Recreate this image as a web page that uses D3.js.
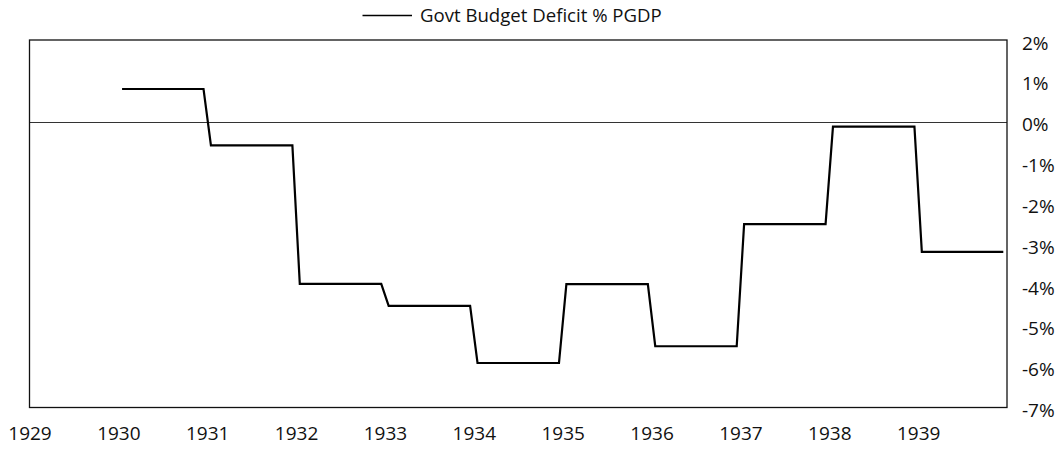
<!DOCTYPE html>
<html>
<head>
<meta charset="utf-8">
<script src="https://cdn.jsdelivr.net/npm/d3@7"></script>
<style>
  html, body { margin: 0; padding: 0; background: #fff; }
  svg { display: block; }
  text { font-family: "Open Sans", "Noto Sans", sans-serif; fill: #111; }
</style>
</head>
<body>
<svg id="chart" width="1064" height="453"></svg>
<script>
// Data: annual government budget deficit as % of GDP
const years = [1930, 1931, 1932, 1933, 1934, 1935, 1936, 1937, 1938, 1939];
const deficit = [0.80, -0.58, -3.97, -4.51, -5.91, -3.98, -5.50, -2.51, -0.12, -3.19];
const xTickYears = [1929, 1930, 1931, 1932, 1933, 1934, 1935, 1936, 1937, 1938, 1939];
const yTicks = [2, 1, 0, -1, -2, -3, -4, -5, -6, -7];
const seriesName = "Govt Budget Deficit % PGDP";

const svg = d3.select("#chart");
const plotL = 29.5, plotR = 1007, plotT = 40, plotB = 407.5;

const x = d3.scaleLinear().domain([1929, 1940]).range([plotL, plotR]);
const y = d3.scaleLinear().domain([-7, 2]).range([plotB, plotT]);

// Zero line
svg.append("line")
  .attr("x1", plotL).attr("x2", plotR)
  .attr("y1", Math.round(y(0)) + 0.5).attr("y2", Math.round(y(0)) + 0.5)
  .attr("stroke", "#333").attr("stroke-width", 1);

// Step line: monthly categories, each year's value held from Jan to Dec
const pts = [];
years.forEach((yr, i) => {
  pts.push([x(yr + 0.5 / 12), y(deficit[i])]);
  pts.push([x(yr + 11.5 / 12), y(deficit[i])]);
});
svg.append("path")
  .attr("d", d3.line()(pts))
  .attr("fill", "none")
  .attr("stroke", "#000")
  .attr("stroke-width", 2.2)
  .attr("stroke-linejoin", "miter");

// Frame
svg.append("rect")
  .attr("x", plotL).attr("y", plotT)
  .attr("width", plotR - plotL).attr("height", plotB - plotT)
  .attr("fill", "none").attr("stroke", "#111").attr("stroke-width", 1.3);

// Right axis labels
const yAxis = d3.axisRight(y).tickValues(yTicks).tickSize(0).tickPadding(0)
  .tickFormat(d => d + "%");
const gy = svg.append("g").attr("transform", `translate(1022,3)`).call(yAxis);
gy.select(".domain").remove();
gy.selectAll("text").style("font-size", "19px").attr("fill", "#111")
  .style("font-family", "'Open Sans', sans-serif");

// Bottom axis labels
const xAxis = d3.axisBottom(x).tickValues(xTickYears).tickSize(0).tickPadding(0)
  .tickFormat(d3.format("d"));
const gx = svg.append("g").attr("transform", `translate(0,426)`).call(xAxis);
gx.select(".domain").remove();
gx.selectAll("text").style("font-size", "19px").attr("fill", "#111")
  .style("font-family", "'Open Sans', sans-serif");

// Legend
svg.append("line")
  .attr("x1", 362.5).attr("x2", 412).attr("y1", 15.5).attr("y2", 15.5)
  .attr("stroke", "#000").attr("stroke-width", 1.5);
svg.append("text")
  .attr("x", 420).attr("y", 22)
  .style("font-size", "18.6px")
  .text(seriesName);
</script>
</body>
</html>
